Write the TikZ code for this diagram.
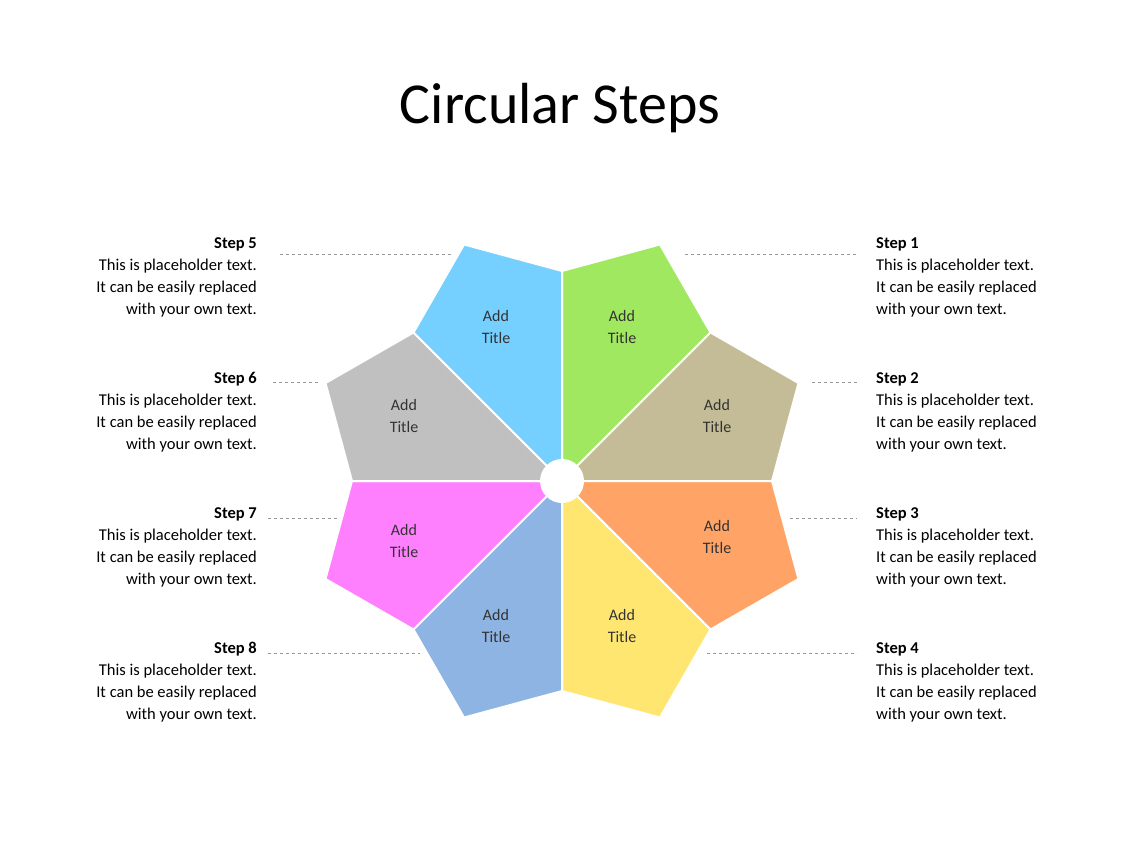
\documentclass[tikz,border=0pt]{standalone}
\usepackage{fontspec}
\usetikzlibrary{calc}
\setmainfont{Carlito}
\begin{document}
\begin{tikzpicture}[x=1pt,y=-1pt,
  sec/.style={draw=white,line width=2pt,line join=round},
  lbl/.style={font=\fontsize{16}{22}\selectfont,align=center,text=black!80},
  stepR/.style={font=\fontsize{16.5}{22}\selectfont,align=left,anchor=north west,inner sep=0pt},
  stepL/.style={font=\fontsize{16.5}{22}\selectfont,align=right,anchor=north east,inner sep=0pt},
  guide/.style={draw=black!40,dashed,line width=0.5pt}]
\useasboundingbox (0,0) rectangle (1128,846);
\fill[white] (0,0) rectangle (1128,846);
\node[font=\fontsize{58}{60}\selectfont] (title) at (560,108) {Circular Steps};
\coordinate (c) at (562,481);
\foreach \a/\col in {45/A0E860,0/C4BC96,-45/FFA466,-90/FFE671,-135/8EB4E3,180/FF80FF,135/C0C0C0,90/75CFFF}{
  \definecolor{cc}{HTML}{\col}
  \path[sec,fill=cc] (c) -- ($(c)+({210*cos(\a)},{-210*sin(\a)})$) -- ($(c)+({256*cos(\a+22.5)},{-256*sin(\a+22.5)})$) -- ($(c)+({210*cos(\a+45)},{-210*sin(\a+45)})$) -- cycle;
}
\fill[white] (c) circle (22);
\node[lbl] (t1) at (622,327) {Add\\Title};
\node[lbl] (t2) at (717,416) {Add\\Title};
\node[lbl] (t3) at (717,537) {Add\\Title};
\node[lbl] (t4) at (622,626) {Add\\Title};
\node[lbl] (t8) at (496,626) {Add\\Title};
\node[lbl] (t7) at (404,541) {Add\\Title};
\node[lbl] (t6) at (404,416) {Add\\Title};
\node[lbl] (t5) at (496,327) {Add\\Title};
\foreach \n/\y in {1/237,2/372,3/507,4/642}{
  \node[stepR] (s\n) at (876,\y) {\textbf{Step \n}\\This is placeholder text.\\It can be easily replaced\\with your own text.};
}
\foreach \n/\y in {5/237,6/372,7/507,8/642}{
  \node[stepL] (s\n) at (257,\y) {\textbf{Step \n}\\This is placeholder text.\\It can be easily replaced\\with your own text.};
}
\draw[guide] (685,254) -- (857,254);
\draw[guide] (812,382) -- (857,382);
\draw[guide] (790,518) -- (857,518);
\draw[guide] (707,653) -- (857,653);
\draw[guide] (280,254) -- (452,254);
\draw[guide] (273,382) -- (320,382);
\draw[guide] (268,518) -- (338,518);
\draw[guide] (268,653) -- (420,653);
\end{tikzpicture}
\end{document}
